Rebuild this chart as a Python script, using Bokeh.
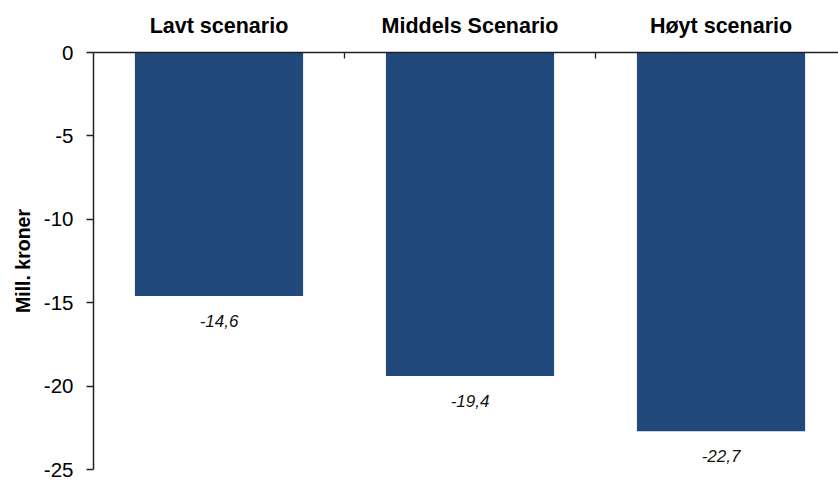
from bokeh.plotting import figure
from bokeh.models import Range1d, FixedTicker, ColumnDataSource, LabelSet
from bokeh.core.properties import value
from bokeh.embed import file_html
from bokeh.resources import INLINE

categories = ["Lavt scenario", "Middels Scenario", "Høyt scenario"]
values = [-14.6, -19.4, -22.7]
value_labels = ["-14,6", "-19,4", "-22,7"]
y_ticks = [0, -5, -10, -15, -20, -25]
y_tick_labels = ["0", "-5", "-10", "-15", "-20", "-25"]

xs = [i + 0.5 for i in range(len(categories))]

p = figure(width=838, height=480, output_backend="svg", toolbar_location=None,
           x_range=Range1d(0, 2.968), y_range=Range1d(-25, 0),
           x_axis_location="above", min_border_left=93, min_border_top=52,
           min_border_bottom=11, min_border_right=0)
p.outline_line_color = None
p.grid.grid_line_color = None

src = ColumnDataSource(dict(x=xs, top=[0] * len(values), bottom=values, lab=value_labels))
p.vbar(x="x", width=0.67, top="top", bottom="bottom", source=src,
       fill_color="#22497B", line_color=None)

labels = LabelSet(x="x", y="bottom", text="lab", source=src, y_offset=-25,
                  text_align="center", text_baseline="middle",
                  text_font=value("Liberation Sans"), text_font_style="italic",
                  text_font_size="17px", text_color="#111111")
p.add_layout(labels)

xa = p.xaxis[0]
xa.ticker = FixedTicker(ticks=xs, minor_ticks=[1, 2, 3])
xa.major_label_overrides = {x: c for x, c in zip(xs, categories)}
xa.major_tick_in = 0
xa.major_tick_out = 0
xa.minor_tick_in = 6
xa.minor_tick_out = 0
xa.minor_tick_line_color = "#222222"
xa.minor_tick_line_width = 1.3
xa.axis_line_color = "#222222"
xa.axis_line_width = 1.5
xa.major_label_standoff = 15
xa.major_label_text_font = "Liberation Sans"
xa.major_label_text_font_style = "bold"
xa.major_label_text_font_size = "21.5px"
xa.major_label_text_color = "black"

ya = p.yaxis[0]
ya.ticker = FixedTicker(ticks=y_ticks)
ya.major_label_overrides = {t: s for t, s in zip(y_ticks, y_tick_labels)}
ya.major_tick_in = 0
ya.major_tick_out = 7
ya.minor_tick_line_color = None
ya.axis_line_color = "#222222"
ya.axis_line_width = 1.5
ya.major_tick_line_color = "#222222"
ya.major_tick_line_width = 1.3
ya.major_label_standoff = 13
ya.major_label_text_font = "Liberation Sans"
ya.major_label_text_font_size = "20.5px"
ya.major_label_text_color = "black"
ya.axis_label = "Mill. kroner"
ya.axis_label_text_font = "Liberation Sans"
ya.axis_label_text_font_style = "bold"
ya.axis_label_text_font_size = "19.5px"
ya.axis_label_text_color = "black"
ya.axis_label_standoff = 7

open("out.html", "w").write(file_html(p, INLINE))
